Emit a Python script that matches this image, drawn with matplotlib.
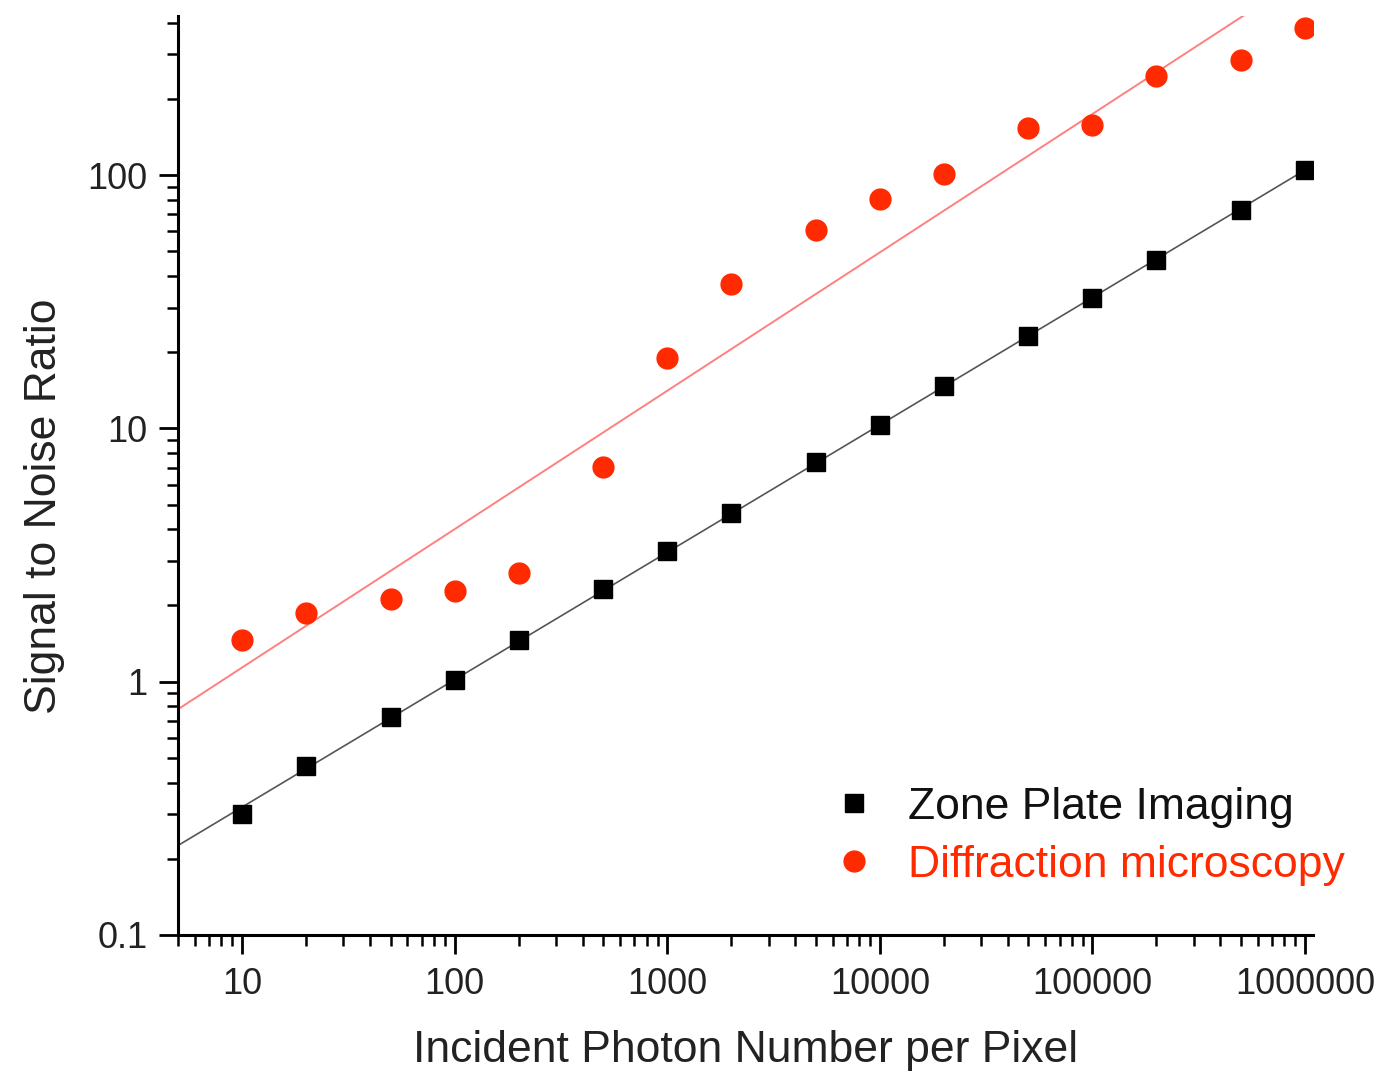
import numpy as np
import matplotlib
matplotlib.use("Agg")
import matplotlib.pyplot as plt
from matplotlib.ticker import LogLocator, FuncFormatter, NullFormatter

plt.rcParams['font.family'] = ['Liberation Sans', 'DejaVu Sans']

# photon counts per pixel
photons = [10, 20, 50, 100, 200, 500, 1000, 2000, 5000, 1e4, 2e4, 5e4, 1e5, 2e5, 5e5, 1e6]
# signal to noise
snr_zone = [0.300, 0.465, 0.725, 1.02, 1.46, 2.32, 3.28, 4.64, 7.36, 10.3, 14.7, 23.2, 32.7, 46.2, 72.8, 105]
snr_diff = [1.46, 1.87, 2.12, 2.28, 2.69, 7.04, 19.0, 37.2, 60.7, 80.5, 101, 153, 158, 246, 285, 381]

red = '#ff2a00'

fig = plt.figure(figsize=(13.81, 10.72), dpi=100)
ax = fig.add_axes([0.1289, 0.1278, 0.8219, 0.8573])

xmin, xmax = 5, 1.09e6
xx = np.logspace(np.log10(xmin), np.log10(xmax), 50)

# power-law fits in log space
lx = np.log10(photons)
pz = np.polyfit(lx, np.log10(snr_zone), 1)
pd_ = np.polyfit(lx, np.log10(snr_diff), 1)
ax.plot(xx, 10 ** np.polyval(pz, np.log10(xx)), color='#555555', lw=1.2, zorder=1)
ax.plot(xx, 10 ** np.polyval(pd_, np.log10(xx)), color='#ff8080', lw=1.4, zorder=1)

ax.plot(photons, snr_zone, 's', color='black', ms=13, label='Zone Plate Imaging', zorder=3)
ax.plot(photons, snr_diff, 'o', color=red, ms=15, label='Diffraction microscopy', zorder=3)

ax.set_xscale('log')
ax.set_yscale('log')
ax.set_xlim(xmin, xmax)
ax.set_ylim(0.1, 425)

for s in ['top', 'right']:
    ax.spines[s].set_visible(False)
for s in ['left', 'bottom']:
    ax.spines[s].set_linewidth(2.2)

ax.xaxis.set_major_locator(LogLocator(base=10, numticks=20))
ax.xaxis.set_minor_locator(LogLocator(base=10, subs=np.arange(2, 10), numticks=20))
ax.yaxis.set_major_locator(LogLocator(base=10, numticks=20))
ax.yaxis.set_minor_locator(LogLocator(base=10, subs=np.arange(2, 10), numticks=20))
fmt = FuncFormatter(lambda v, p: ('%g' % v) if v < 1 else '%d' % round(v))
ax.xaxis.set_major_formatter(fmt)
ax.yaxis.set_major_formatter(fmt)
ax.xaxis.set_minor_formatter(NullFormatter())
ax.yaxis.set_minor_formatter(NullFormatter())

ax.tick_params(which='major', direction='out', length=14, width=2.0, labelsize=26, colors='black', labelcolor='#222222')
ax.tick_params(which='minor', direction='out', length=8, width=1.8)
ax.tick_params(axis='y', which='major', pad=8)
ax.tick_params(axis='x', which='major', pad=9)

ax.set_xlabel('Incident Photon Number per Pixel', fontsize=32, color='#222222', labelpad=20)
ax.set_ylabel('Signal to Noise Ratio', fontsize=32, color='#222222')
ax.yaxis.set_label_coords(-0.1, 0.467)

leg = ax.legend(loc='lower right', bbox_to_anchor=(1.063, 0.01), frameon=False,
                fontsize=32, handletextpad=0.45, labelspacing=0.38, markerscale=1.0,
                handlelength=1.5)
leg.get_texts()[0].set_color('#111111')
leg.get_texts()[1].set_color(red)

fig.savefig('out.png', dpi=100)
